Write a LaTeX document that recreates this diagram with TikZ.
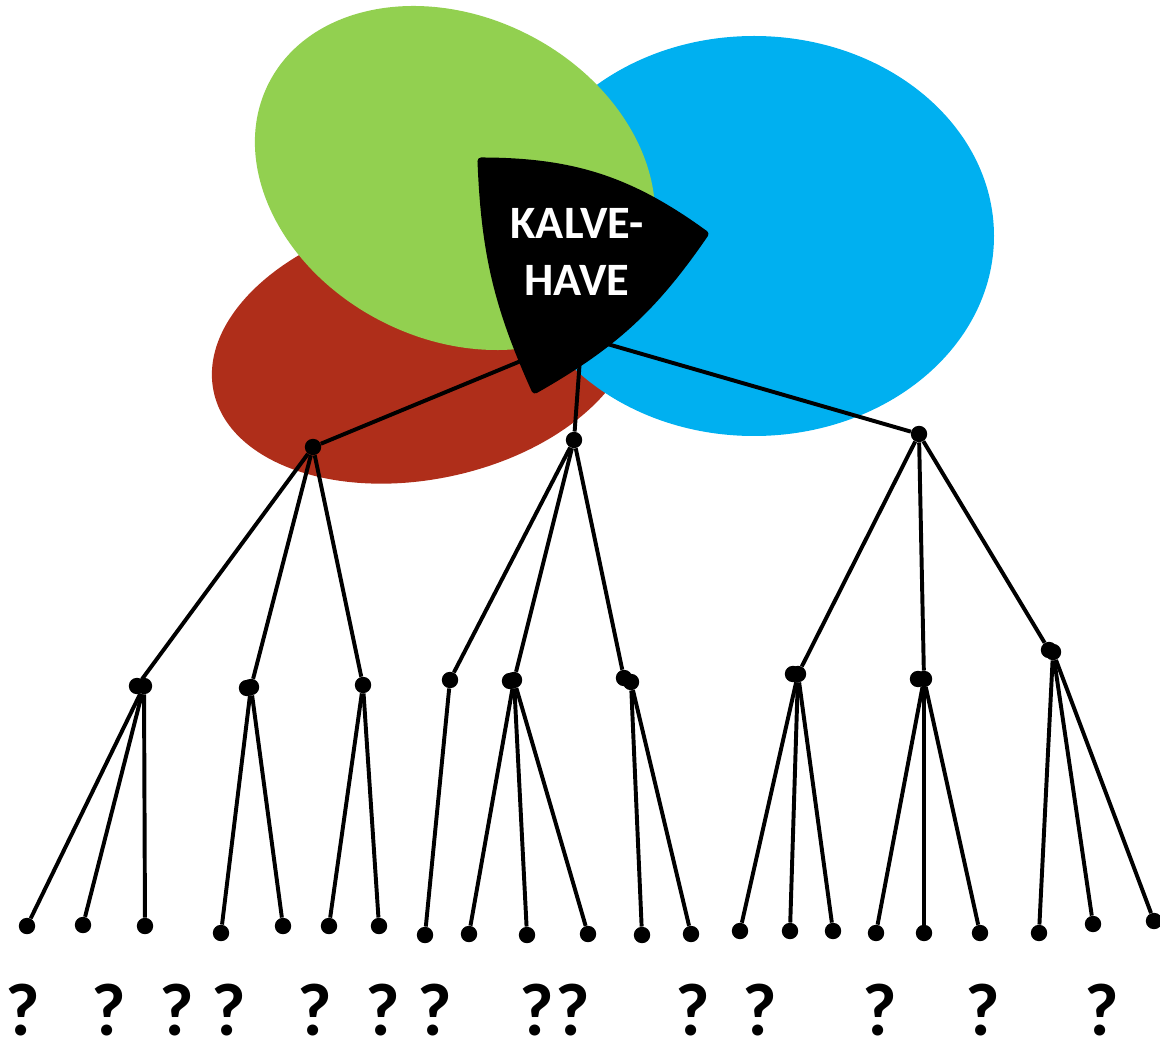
\documentclass[tikz,border=0pt]{standalone}
\usepackage{fontspec}
\setmainfont{Carlito}
\usepackage{tikz}
\usetikzlibrary{positioning}
\definecolor{kred}{RGB}{175,46,26}
\definecolor{kgreen}{RGB}{146,208,80}
\definecolor{kblue}{RGB}{0,176,240}

\begin{document}
\begin{tikzpicture}
		[x=0.025cm,y=-0.025cm,
		dot/.style={fill=black,circle,inner sep=0pt,minimum size=0.41cm},
		branch/.style={draw,line width=2.8pt},
		quest/.style={font=\bfseries\fontsize{53}{60}\selectfont,inner sep=0pt},
		kalve/.style={fill=black,draw=black,line width=5pt,line join=round}]
		\useasboundingbox (0,0) rectangle (1160,1037);
		% ellipses
		\fill[kred,rotate around={12:(424,347)}] (424,347) ellipse [x radius=215,y radius=132];
		\fill[kblue] (754,236) ellipse [x radius=240,y radius=200];
		\fill[kgreen,rotate around={-27:(455,178)}] (455,178) ellipse [x radius=209,y radius=161];
		% first level
		\node[dot] (a) at (313,447) {};
		\node[dot] (b) at (574,440) {};
		\node[dot] (c) at (919,434) {};
		\coordinate (kl) at (545,351);
		\coordinate (km) at (581,345);
		\coordinate (kr) at (590,339);
		\draw[branch] (kl) -- (a);
		\draw[branch] (km) -- (b);
		\draw[branch] (kr) -- (c);
		% the black triangle
		\coordinate (k1) at (481,161);
		\coordinate (k2) at (705,234);
		\coordinate (k3) at (535,390);
		\path[kalve] (k1) to[bend left=18] (k2) to[bend left=13] (k3) to[bend left=11] (k1) -- cycle;
		\node[text=white,align=center,font=\bfseries\fontsize{33}{41}\selectfont] (name) at (577,252) {KALVE-\\HAVE};
		% second level
		\node[dot] (a1t) at (137,686) {};
		\node[dot] (a1) at (144,686) {};
		\node[dot] (a2t) at (247,688) {};
		\node[dot] (a2) at (251,687) {};
		\node[dot] (a3) at (363,685) {};
		\node[dot] (b1) at (450,680) {};
		\node[dot] (b2t) at (510,681) {};
		\node[dot] (b2) at (514,680) {};
		\node[dot] (b3t) at (624,678) {};
		\node[dot] (b3) at (631,682) {};
		\node[dot] (c1t) at (793,674) {};
		\node[dot] (c1) at (798,674) {};
		\node[dot] (c2t) at (918,679) {};
		\node[dot] (c2) at (924,679) {};
		\node[dot] (c3t) at (1049,650) {};
		\node[dot] (c3) at (1053,652) {};
		% leaves
		\foreach \n/\x/\y in {a11/27/926,a12/83/925,a13/145/926,a21/221/933,a22/283/926,
			a31/329/926,a32/379/926,b11/425/935,b21/469/934,b22/527/935,b23/588/934,
			b31/642/935,b32/691/934,c11/740/931,c12/790/931,c13/833/931,
			c21/876/933,c22/924/933,c23/980/933,c31/1039/933,c32/1093/924,c33/1154/921}
			\node[dot] (\n) at (\x,\y) {};
		\foreach \p/\q in {a/a1t,a/a2,a/a3,b/b1,b/b2,b/b3t,c/c1,c/c2,c/c3t,
			a1/a11,a1/a12,a1/a13,a2/a21,a2/a22,a3/a31,a3/a32,b1/b11,
			b2/b21,b2/b22,b2/b23,b3/b31,b3/b32,c1/c11,c1/c12,c1/c13,
			c2/c21,c2/c22,c2/c23,c3/c31,c3/c32,c3/c33}
			\draw[branch] (\p) -- (\q);
		% question marks
		\foreach \x [count=\i] in {23,109,177,229,315,383,435,537,573,693,760,880,983,1102}
			\node[quest] (q\i) at (\x,1010) {?};
\end{tikzpicture}
\end{document}
